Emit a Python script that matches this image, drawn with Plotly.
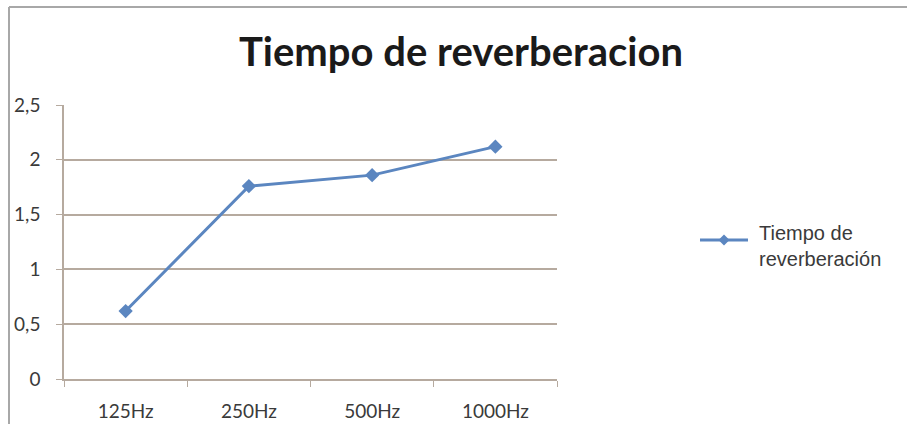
import plotly.graph_objects as go

# Reverberation time per octave band
bandas = ["125Hz", "250Hz", "500Hz", "1000Hz"]
tiempo_rev = [0.62, 1.76, 1.86, 2.12]
y_ticks = [0, 0.5, 1, 1.5, 2, 2.5]
y_labels = ["0", "0,5", "1", "1,5", "2", "2,5"]
serie_nombre = "Tiempo de<br>reverberación"

W, H = 907, 424
L, R, T, B = 64, 350, 105, 45
pw, ph = W - L - R, H - T - B

def px_x(px):
    return (px - L) / pw

def px_y(py):
    return (H - B - py) / ph

grid = "#b6aa9f"
text_col = "#3a3a3a"
serie_col = "#5b86c0"

fig = go.Figure()
fig.add_trace(go.Scatter(
    x=bandas, y=tiempo_rev, mode="lines+markers",
    name=serie_nombre, showlegend=False,
    line=dict(color=serie_col, width=3),
    marker=dict(symbol="diamond", size=11, color=serie_col),
))

# outer chart frame (top and left edges)
fig.add_shape(type="line", xref="paper", yref="paper",
              x0=px_x(9), x1=px_x(W + 5), y0=px_y(7), y1=px_y(7),
              line=dict(color="#a8a8a8", width=2))
fig.add_shape(type="line", xref="paper", yref="paper",
              x0=px_x(9), x1=px_x(9), y0=px_y(7), y1=px_y(H + 5),
              line=dict(color="#a8a8a8", width=2))

# legend: sample line with diamond, and the series name
ly = 240
fig.add_shape(type="line", xref="paper", yref="paper",
              x0=px_x(700), x1=px_x(748), y0=px_y(ly), y1=px_y(ly),
              line=dict(color=serie_col, width=3))
cx, d = 724, 5.5
fig.add_shape(type="path", xref="paper", yref="paper",
              path=(f"M {px_x(cx - d)} {px_y(ly)} L {px_x(cx)} {px_y(ly - d)} "
                    f"L {px_x(cx + d)} {px_y(ly)} L {px_x(cx)} {px_y(ly + d)} Z"),
              fillcolor=serie_col, line=dict(color=serie_col, width=0))
fig.add_annotation(xref="paper", yref="paper", x=px_x(757), y=px_y(246),
                   xanchor="left", yanchor="middle", align="left",
                   text=serie_nombre, showarrow=False,
                   font=dict(family="Liberation Sans", size=20, color=text_col))

fig.update_layout(
    width=W, height=H,
    margin=dict(l=L, r=R, t=T, b=B, autoexpand=False),
    paper_bgcolor="white", plot_bgcolor="white",
    title=dict(text="<b>Tiempo de reverberacion</b>",
               x=461 / W, xanchor="center",
               y=1 - 52 / H, yanchor="middle", yref="container",
               font=dict(family="Lato", size=40, color="#1a1a1a")),
    showlegend=False,
    xaxis=dict(
        type="category", showgrid=False, showline=True, linecolor=grid, linewidth=1.5,
        ticks="outside", tickson="boundaries", ticklen=6, tickcolor=grid,
        tickfont=dict(family="Lato", size=19, color=text_col),
        ticklabelstandoff=14, range=[-0.5, 3.5], automargin=False,
    ),
    yaxis=dict(
        range=[0, 2.5], tickvals=y_ticks, ticktext=y_labels,
        showgrid=True, gridcolor=grid, gridwidth=1.5,
        showline=True, linecolor=grid, linewidth=1.5,
        ticks="outside", ticklen=6, tickcolor=grid,
        tickfont=dict(family="Lato", size=19, color=text_col),
        ticklabelstandoff=12, zeroline=False, automargin=False,
    ),
)

fig.write_html("out.html")
